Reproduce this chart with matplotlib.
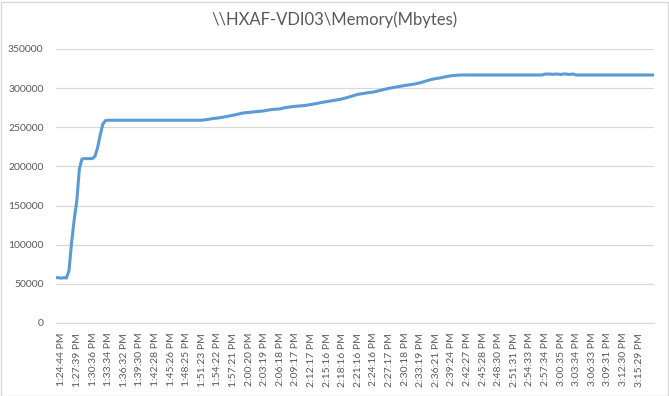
import matplotlib
matplotlib.use("Agg")
import matplotlib.pyplot as plt
from matplotlib.patches import Rectangle
from matplotlib.transforms import ScaledTranslation
import numpy as np

title = r"\\HXAF-VDI03\Memory(Mbytes)"

tick_labels = [
    "1:24:44 PM", "1:27:39 PM", "1:30:36 PM", "1:33:34 PM", "1:36:32 PM",
    "1:39:30 PM", "1:42:28 PM", "1:45:26 PM", "1:48:25 PM", "1:51:23 PM",
    "1:54:22 PM", "1:57:21 PM", "2:00:20 PM", "2:03:19 PM", "2:06:18 PM",
    "2:09:17 PM", "2:12:17 PM", "2:15:16 PM", "2:18:16 PM", "2:21:16 PM",
    "2:24:16 PM", "2:27:17 PM", "2:30:18 PM", "2:33:19 PM", "2:36:21 PM",
    "2:39:24 PM", "2:42:27 PM", "2:45:28 PM", "2:48:30 PM", "2:51:31 PM",
    "2:54:33 PM", "2:57:34 PM", "3:00:35 PM", "3:03:34 PM", "3:06:33 PM",
    "3:09:31 PM", "3:12:30 PM", "3:15:29 PM",
]
samples_per_label = 6

memory_mb = [
    58000, 57800, 57300, 57900, 57400, 67000, 103000, 132000, 156000, 197000,
    209500, 210000, 210000, 210000, 210000, 213000, 224000, 240000, 254000, 258500,
    259000, 259000, 259000, 259000, 259000, 259000, 259000, 259000, 259000, 259000,
    259000, 259000, 259000, 259000, 259000, 259000, 259000, 259000, 259000, 259000,
    259000, 259000, 259000, 259000, 259000, 259000, 259000, 259000, 259000, 259000,
    259000, 259000, 259000, 259000, 259000, 259000, 259000, 259400, 259800, 260300,
    261000, 261300, 261700, 262200, 262800, 263400, 264000, 264600, 265300, 266000,
    266800, 267600, 268300, 268700, 269000, 269300, 269600, 269900, 270300, 270600,
    271000, 271600, 272200, 272600, 273000, 273200, 273400, 274200, 275000, 275500,
    276000, 276400, 276800, 277000, 277300, 277600, 278000, 278500, 279000, 279600,
    280300, 281000, 281600, 282200, 282800, 283300, 283800, 284400, 285000, 285600,
    286200, 287100, 288000, 289000, 290000, 291000, 292000, 292500, 293000, 293600,
    294200, 294600, 295000, 295700, 296500, 297400, 298200, 299000, 299800, 300400,
    301000, 301700, 302300, 302800, 303300, 303800, 304300, 304800, 305300, 306000,
    306800, 307800, 308800, 309800, 310800, 311500, 312200, 312700, 313200, 314000,
    314700, 315300, 315800, 316200, 316500, 316700, 316800, 316800, 316800, 316800,
    316800, 316800, 316800, 316800, 316800, 316800, 316800, 316800, 316800, 316800,
    316800, 316800, 316800, 316800, 316800, 316800, 316800, 316800, 316800, 316800,
    316800, 316800, 316800, 316800, 316800, 316800, 316800, 316800, 318000, 318000,
    318000, 317600, 318000, 318000, 317400, 318000, 318200, 317500, 317800, 318000,
    316800, 316800, 316800, 316800, 316800, 316800, 316800, 316800, 316800, 316800,
    316800, 316800, 316800, 316800, 316800, 316800, 316800, 316800, 316800, 316800,
    316800, 316800, 316800, 316800, 316800, 316800, 316800, 316800, 316800, 316800,
    316800,
]

y_ticks = [0, 50000, 100000, 150000, 200000, 250000, 300000, 350000]

plt.rcParams["font.family"] = ["Lato", "DejaVu Sans"]

W, H = 669, 396
fig = plt.figure(figsize=(W / 100, H / 100), dpi=100)
fig.patch.set_facecolor("white")

ax = fig.add_axes([56 / W, 1 - 323 / H, 598 / W, 274 / H])
x = np.arange(len(memory_mb))
ax.plot(x, memory_mb, color="#5B9BD5", linewidth=2.2, solid_joinstyle="round",
        solid_capstyle="round", zorder=3)

ax.set_xlim(0, len(memory_mb) - 1)
ax.set_ylim(0, 350000)
ax.set_yticks(y_ticks)
ax.set_yticklabels([str(v) for v in y_ticks])
ax.set_xticks(np.arange(len(tick_labels)) * samples_per_label)
ax.set_xticklabels(tick_labels, rotation=90)

ax.grid(axis="y", color="#D9D9D9", linewidth=0.9, zorder=0)
ax.set_axisbelow(True)
for s in ["top", "right", "left"]:
    ax.spines[s].set_visible(False)
ax.spines["bottom"].set_color("#D9D9D9")
ax.spines["bottom"].set_linewidth(0.9)
ax.tick_params(axis="both", length=0, colors="#595959", labelsize=7.5)
ax.tick_params(axis="y", pad=9)
ax.tick_params(axis="x", pad=7)

shift = ScaledTranslation(6 / 100, 0, fig.dpi_scale_trans)
for lbl in ax.get_xticklabels():
    lbl.set_transform(lbl.get_transform() + shift)

fig.text(334 / W, 1 - 20 / H, title, ha="center", va="center",
         fontsize=12, color="#595959")

fig.add_artist(Rectangle((0.5 / W, 0.5 / H), (W - 2) / W, (H - 2) / H,
                         transform=fig.transFigure, fill=False,
                         edgecolor="#D9D9D9", linewidth=1))

fig.savefig("out.png", dpi=100)
